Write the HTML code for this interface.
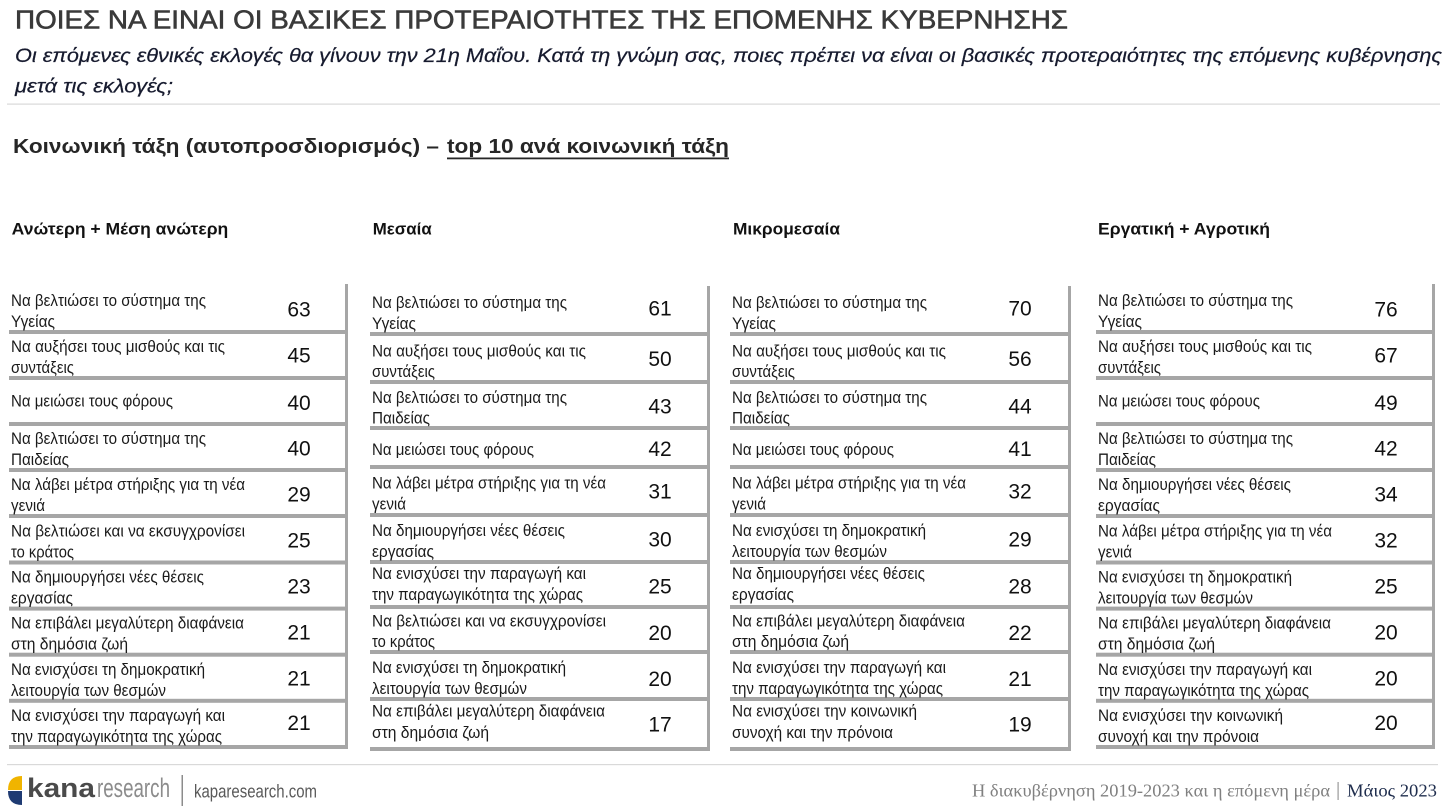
<!DOCTYPE html>
<html><head><meta charset="utf-8"><style>
html,body{margin:0;padding:0;background:#fff;}
svg{display:block;}
.t{font-family:"Liberation Sans",Arial,sans-serif;font-size:16.5px;fill:#1a1a1a;}
.n{font-family:"Liberation Sans",Arial,sans-serif;font-size:21px;fill:#111;text-anchor:middle;}
.h{font-family:"Liberation Sans",Arial,sans-serif;font-size:17px;font-weight:bold;fill:#111;}
</style></head><body>
<svg width="1449" height="809" viewBox="0 0 1449 809" xmlns="http://www.w3.org/2000/svg">
<rect width="1449" height="809" fill="#fff"/>
<!-- Title -->
<text x="15" y="28.3" font-family="Liberation Sans, Arial, sans-serif" font-size="25.6" fill="#3a3a3a" stroke="#3a3a3a" stroke-width="0.6" textLength="1053" lengthAdjust="spacingAndGlyphs">ΠΟΙΕΣ ΝΑ ΕΙΝΑΙ ΟΙ ΒΑΣΙΚΕΣ ΠΡΟΤΕΡΑΙΟΤΗΤΕΣ ΤΗΣ ΕΠΟΜΕΝΗΣ ΚΥΒΕΡΝΗΣΗΣ</text>
<text x="15" y="62" font-family="Liberation Sans, Arial, sans-serif" font-size="19" font-style="italic" fill="#161a2e" stroke="#161a2e" stroke-width="0.2" textLength="1427" lengthAdjust="spacingAndGlyphs">Οι επόμενες εθνικές εκλογές θα γίνουν την 21η Μαΐου. Κατά τη γνώμη σας, ποιες πρέπει να είναι οι βασικές προτεραιότητες της επόμενης κυβέρνησης</text>
<text x="15" y="92.5" font-family="Liberation Sans, Arial, sans-serif" font-size="19" font-style="italic" fill="#161a2e" stroke="#161a2e" stroke-width="0.2" textLength="158" lengthAdjust="spacingAndGlyphs">μετά τις εκλογές;</text>
<rect x="7" y="103.5" width="1433" height="1.2" fill="#d9d9d9"/>
<!-- Section heading -->
<text x="13" y="153" font-family="Liberation Sans, Arial, sans-serif" font-size="20" font-weight="bold" fill="#262626" textLength="426" lengthAdjust="spacingAndGlyphs">Κοινωνική τάξη (αυτοπροσδιορισμός) –</text>
<text x="447" y="153" font-family="Liberation Sans, Arial, sans-serif" font-size="20" font-weight="bold" fill="#262626" textLength="282" lengthAdjust="spacingAndGlyphs">top 10 ανά κοινωνική τάξη</text>
<rect x="447" y="157.5" width="282" height="1.8" fill="#262626"/>
<!-- Column headers -->
<text class="h" x="11.7" y="234.3" textLength="216.6" lengthAdjust="spacingAndGlyphs">Ανώτερη + Μέση ανώτερη</text>
<text class="h" x="372.7" y="234.3" textLength="59" lengthAdjust="spacingAndGlyphs">Μεσαία</text>
<text class="h" x="733" y="234.3" textLength="107" lengthAdjust="spacingAndGlyphs">Μικρομεσαία</text>
<text class="h" x="1098" y="234.3" textLength="172" lengthAdjust="spacingAndGlyphs">Εργατική + Αγροτική</text>

<g fill="#a6a6a6">
<!-- col1 -->
<rect x="345" y="284" width="3" height="465"/>
<rect x="9" y="330" width="339" height="4"/>
<rect x="9" y="376" width="339" height="4"/>
<rect x="9" y="422" width="339" height="4"/>
<rect x="9" y="468" width="339" height="4"/>
<rect x="9" y="514" width="339" height="4"/>
<rect x="9" y="560.5" width="339" height="4"/>
<rect x="9" y="606.6" width="339" height="4"/>
<rect x="9" y="652.7" width="339" height="4"/>
<rect x="9" y="698.8" width="339" height="4"/>
<rect x="9" y="745" width="339" height="4"/>
<!-- col2 -->
<rect x="707" y="286" width="3" height="465"/>
<rect x="370" y="332" width="340" height="4"/>
<rect x="370" y="380" width="340" height="4"/>
<rect x="370" y="426" width="340" height="4"/>
<rect x="370" y="465" width="340" height="4"/>
<rect x="370" y="513" width="340" height="4"/>
<rect x="370" y="560" width="340" height="4"/>
<rect x="370" y="605" width="340" height="4"/>
<rect x="370" y="650" width="340" height="4"/>
<rect x="370" y="697" width="340" height="4"/>
<rect x="370" y="747" width="340" height="4"/>
<!-- col3 -->
<rect x="1068" y="286" width="3" height="465"/>
<rect x="730" y="332" width="341" height="4"/>
<rect x="730" y="380" width="341" height="4"/>
<rect x="730" y="426" width="341" height="4"/>
<rect x="730" y="465" width="341" height="4"/>
<rect x="730" y="513" width="341" height="4"/>
<rect x="730" y="560" width="341" height="4"/>
<rect x="730" y="605" width="341" height="4"/>
<rect x="730" y="650" width="341" height="4"/>
<rect x="730" y="697" width="341" height="4"/>
<rect x="730" y="747" width="341" height="4"/>
<!-- col4 -->
<rect x="1432" y="284" width="3" height="465"/>
<rect x="1096" y="330" width="339" height="4"/>
<rect x="1096" y="376" width="339" height="4"/>
<rect x="1096" y="422" width="339" height="4"/>
<rect x="1096" y="468" width="339" height="4"/>
<rect x="1096" y="514" width="339" height="4"/>
<rect x="1096" y="560.5" width="339" height="4"/>
<rect x="1096" y="606.6" width="339" height="4"/>
<rect x="1096" y="652.7" width="339" height="4"/>
<rect x="1096" y="698.8" width="339" height="4"/>
<rect x="1096" y="745" width="339" height="4"/>
</g>

<g>
<!-- Column 1 text -->
<text class="t" x="11" y="306" textLength="195" lengthAdjust="spacingAndGlyphs">Να βελτιώσει το σύστημα της</text><text class="t" x="11" y="327" textLength="44" lengthAdjust="spacingAndGlyphs">Υγείας</text><text class="n" x="299" y="316.5">63</text>
<text class="t" x="11" y="352" textLength="214" lengthAdjust="spacingAndGlyphs">Να αυξήσει τους μισθούς και τις</text><text class="t" x="11" y="373" textLength="63" lengthAdjust="spacingAndGlyphs">συντάξεις</text><text class="n" x="299" y="362.5">45</text>
<text class="t" x="11" y="406.7" textLength="162" lengthAdjust="spacingAndGlyphs">Να μειώσει τους φόρους</text><text class="n" x="299" y="410">40</text>
<text class="t" x="11" y="444" textLength="195" lengthAdjust="spacingAndGlyphs">Να βελτιώσει το σύστημα της</text><text class="t" x="11" y="465" textLength="58" lengthAdjust="spacingAndGlyphs">Παιδείας</text><text class="n" x="299" y="455.5">40</text>
<text class="t" x="11" y="490" textLength="234" lengthAdjust="spacingAndGlyphs">Να λάβει μέτρα στήριξης για τη νέα</text><text class="t" x="11" y="511" textLength="34" lengthAdjust="spacingAndGlyphs">γενιά</text><text class="n" x="299" y="501.5">29</text>
<text class="t" x="11" y="536.5" textLength="234" lengthAdjust="spacingAndGlyphs">Να βελτιώσει και να εκσυγχρονίσει</text><text class="t" x="11" y="557.5" textLength="63" lengthAdjust="spacingAndGlyphs">το κράτος</text><text class="n" x="299" y="547.5">25</text>
<text class="t" x="11" y="582.6" textLength="193" lengthAdjust="spacingAndGlyphs">Να δημιουργήσει νέες θέσεις</text><text class="t" x="11" y="603.6" textLength="62" lengthAdjust="spacingAndGlyphs">εργασίας</text><text class="n" x="299" y="593.5">23</text>
<text class="t" x="11" y="628.7" textLength="233" lengthAdjust="spacingAndGlyphs">Να επιβάλει μεγαλύτερη διαφάνεια</text><text class="t" x="11" y="649.7" textLength="117" lengthAdjust="spacingAndGlyphs">στη δημόσια ζωή</text><text class="n" x="299" y="639.5">21</text>
<text class="t" x="11" y="674.8" textLength="194" lengthAdjust="spacingAndGlyphs">Να ενισχύσει τη δημοκρατική</text><text class="t" x="11" y="695.8" textLength="155" lengthAdjust="spacingAndGlyphs">λειτουργία των θεσμών</text><text class="n" x="299" y="685.5">21</text>
<text class="t" x="11" y="721" textLength="214" lengthAdjust="spacingAndGlyphs">Να ενισχύσει την παραγωγή και</text><text class="t" x="11" y="742" textLength="211" lengthAdjust="spacingAndGlyphs">την παραγωγικότητα της χώρας</text><text class="n" x="299" y="730">21</text>

<!-- Column 2 text -->
<text class="t" x="372" y="308" textLength="195" lengthAdjust="spacingAndGlyphs">Να βελτιώσει το σύστημα της</text><text class="t" x="372" y="329" textLength="44" lengthAdjust="spacingAndGlyphs">Υγείας</text><text class="n" x="660" y="315.5">61</text>
<text class="t" x="372" y="356.5" textLength="214" lengthAdjust="spacingAndGlyphs">Να αυξήσει τους μισθούς και τις</text><text class="t" x="372" y="377" textLength="63" lengthAdjust="spacingAndGlyphs">συντάξεις</text><text class="n" x="660" y="366">50</text>
<text class="t" x="372" y="403" textLength="195" lengthAdjust="spacingAndGlyphs">Να βελτιώσει το σύστημα της</text><text class="t" x="372" y="423.5" textLength="58" lengthAdjust="spacingAndGlyphs">Παιδείας</text><text class="n" x="660" y="413.3">43</text>
<text class="t" x="372" y="455" textLength="162" lengthAdjust="spacingAndGlyphs">Να μειώσει τους φόρους</text><text class="n" x="660" y="456">42</text>
<text class="t" x="372" y="488.5" textLength="234" lengthAdjust="spacingAndGlyphs">Να λάβει μέτρα στήριξης για τη νέα</text><text class="t" x="372" y="509.5" textLength="34" lengthAdjust="spacingAndGlyphs">γενιά</text><text class="n" x="660" y="498.5">31</text>
<text class="t" x="372" y="536" textLength="193" lengthAdjust="spacingAndGlyphs">Να δημιουργήσει νέες θέσεις</text><text class="t" x="372" y="557" textLength="62" lengthAdjust="spacingAndGlyphs">εργασίας</text><text class="n" x="660" y="546.5">30</text>
<text class="t" x="372" y="579" textLength="214" lengthAdjust="spacingAndGlyphs">Να ενισχύσει την παραγωγή και</text><text class="t" x="372" y="600" textLength="211" lengthAdjust="spacingAndGlyphs">την παραγωγικότητα της χώρας</text><text class="n" x="660" y="593.3">25</text>
<text class="t" x="372" y="626.5" textLength="234" lengthAdjust="spacingAndGlyphs">Να βελτιώσει και να εκσυγχρονίσει</text><text class="t" x="372" y="647" textLength="63" lengthAdjust="spacingAndGlyphs">το κράτος</text><text class="n" x="660" y="640">20</text>
<text class="t" x="372" y="673" textLength="194" lengthAdjust="spacingAndGlyphs">Να ενισχύσει τη δημοκρατική</text><text class="t" x="372" y="694" textLength="155" lengthAdjust="spacingAndGlyphs">λειτουργία των θεσμών</text><text class="n" x="660" y="686">20</text>
<text class="t" x="372" y="716.7" textLength="233" lengthAdjust="spacingAndGlyphs">Να επιβάλει μεγαλύτερη διαφάνεια</text><text class="t" x="372" y="738" textLength="117" lengthAdjust="spacingAndGlyphs">στη δημόσια ζωή</text><text class="n" x="660" y="731.7">17</text>

<!-- Column 3 text -->
<text class="t" x="732" y="308" textLength="195" lengthAdjust="spacingAndGlyphs">Να βελτιώσει το σύστημα της</text><text class="t" x="732" y="329" textLength="44" lengthAdjust="spacingAndGlyphs">Υγείας</text><text class="n" x="1020" y="315.5">70</text>
<text class="t" x="732" y="356.5" textLength="214" lengthAdjust="spacingAndGlyphs">Να αυξήσει τους μισθούς και τις</text><text class="t" x="732" y="377" textLength="63" lengthAdjust="spacingAndGlyphs">συντάξεις</text><text class="n" x="1020" y="366">56</text>
<text class="t" x="732" y="403" textLength="195" lengthAdjust="spacingAndGlyphs">Να βελτιώσει το σύστημα της</text><text class="t" x="732" y="423.5" textLength="58" lengthAdjust="spacingAndGlyphs">Παιδείας</text><text class="n" x="1020" y="413.3">44</text>
<text class="t" x="732" y="455" textLength="162" lengthAdjust="spacingAndGlyphs">Να μειώσει τους φόρους</text><text class="n" x="1020" y="456">41</text>
<text class="t" x="732" y="488.5" textLength="234" lengthAdjust="spacingAndGlyphs">Να λάβει μέτρα στήριξης για τη νέα</text><text class="t" x="732" y="509.5" textLength="34" lengthAdjust="spacingAndGlyphs">γενιά</text><text class="n" x="1020" y="498.5">32</text>
<text class="t" x="732" y="536" textLength="194" lengthAdjust="spacingAndGlyphs">Να ενισχύσει τη δημοκρατική</text><text class="t" x="732" y="557" textLength="155" lengthAdjust="spacingAndGlyphs">λειτουργία των θεσμών</text><text class="n" x="1020" y="546.5">29</text>
<text class="t" x="732" y="579" textLength="193" lengthAdjust="spacingAndGlyphs">Να δημιουργήσει νέες θέσεις</text><text class="t" x="732" y="600" textLength="62" lengthAdjust="spacingAndGlyphs">εργασίας</text><text class="n" x="1020" y="593.3">28</text>
<text class="t" x="732" y="626.5" textLength="233" lengthAdjust="spacingAndGlyphs">Να επιβάλει μεγαλύτερη διαφάνεια</text><text class="t" x="732" y="647" textLength="117" lengthAdjust="spacingAndGlyphs">στη δημόσια ζωή</text><text class="n" x="1020" y="640">22</text>
<text class="t" x="732" y="673" textLength="214" lengthAdjust="spacingAndGlyphs">Να ενισχύσει την παραγωγή και</text><text class="t" x="732" y="694" textLength="211" lengthAdjust="spacingAndGlyphs">την παραγωγικότητα της χώρας</text><text class="n" x="1020" y="686">21</text>
<text class="t" x="732" y="716.7" textLength="185" lengthAdjust="spacingAndGlyphs">Να ενισχύσει την κοινωνική</text><text class="t" x="732" y="738" textLength="161" lengthAdjust="spacingAndGlyphs">συνοχή και την πρόνοια</text><text class="n" x="1020" y="731.7">19</text>

<!-- Column 4 text -->
<text class="t" x="1098" y="306" textLength="195" lengthAdjust="spacingAndGlyphs">Να βελτιώσει το σύστημα της</text><text class="t" x="1098" y="327" textLength="44" lengthAdjust="spacingAndGlyphs">Υγείας</text><text class="n" x="1386" y="316.5">76</text>
<text class="t" x="1098" y="352" textLength="214" lengthAdjust="spacingAndGlyphs">Να αυξήσει τους μισθούς και τις</text><text class="t" x="1098" y="373" textLength="63" lengthAdjust="spacingAndGlyphs">συντάξεις</text><text class="n" x="1386" y="362.5">67</text>
<text class="t" x="1098" y="406.7" textLength="162" lengthAdjust="spacingAndGlyphs">Να μειώσει τους φόρους</text><text class="n" x="1386" y="410">49</text>
<text class="t" x="1098" y="444" textLength="195" lengthAdjust="spacingAndGlyphs">Να βελτιώσει το σύστημα της</text><text class="t" x="1098" y="465" textLength="58" lengthAdjust="spacingAndGlyphs">Παιδείας</text><text class="n" x="1386" y="455.5">42</text>
<text class="t" x="1098" y="490" textLength="193" lengthAdjust="spacingAndGlyphs">Να δημιουργήσει νέες θέσεις</text><text class="t" x="1098" y="511" textLength="62" lengthAdjust="spacingAndGlyphs">εργασίας</text><text class="n" x="1386" y="501.5">34</text>
<text class="t" x="1098" y="536.5" textLength="234" lengthAdjust="spacingAndGlyphs">Να λάβει μέτρα στήριξης για τη νέα</text><text class="t" x="1098" y="557.5" textLength="34" lengthAdjust="spacingAndGlyphs">γενιά</text><text class="n" x="1386" y="547.5">32</text>
<text class="t" x="1098" y="582.6" textLength="194" lengthAdjust="spacingAndGlyphs">Να ενισχύσει τη δημοκρατική</text><text class="t" x="1098" y="603.6" textLength="155" lengthAdjust="spacingAndGlyphs">λειτουργία των θεσμών</text><text class="n" x="1386" y="593.5">25</text>
<text class="t" x="1098" y="628.7" textLength="233" lengthAdjust="spacingAndGlyphs">Να επιβάλει μεγαλύτερη διαφάνεια</text><text class="t" x="1098" y="649.7" textLength="117" lengthAdjust="spacingAndGlyphs">στη δημόσια ζωή</text><text class="n" x="1386" y="639.5">20</text>
<text class="t" x="1098" y="674.8" textLength="214" lengthAdjust="spacingAndGlyphs">Να ενισχύσει την παραγωγή και</text><text class="t" x="1098" y="695.8" textLength="211" lengthAdjust="spacingAndGlyphs">την παραγωγικότητα της χώρας</text><text class="n" x="1386" y="685.5">20</text>
<text class="t" x="1098" y="721" textLength="185" lengthAdjust="spacingAndGlyphs">Να ενισχύσει την κοινωνική</text><text class="t" x="1098" y="742" textLength="161" lengthAdjust="spacingAndGlyphs">συνοχή και την πρόνοια</text><text class="n" x="1386" y="730">20</text>
</g>

<!-- Footer -->
<rect x="7" y="764" width="1431" height="1.2" fill="#d9d9d9"/>
<path d="M22,776 L22,790 L8,790 Q8,776 22,776 Z" fill="#f0b400"/>
<path d="M22,791 L22,805 Q8,805 8,791 Z" fill="#1f3b73"/>
<text x="27" y="797" font-family="Liberation Sans, Arial, sans-serif" font-size="27" font-weight="bold" fill="#4a4a4a" textLength="68" lengthAdjust="spacingAndGlyphs">kana</text>
<text x="97" y="797" font-family="Liberation Sans, Arial, sans-serif" font-size="27" fill="#8c8c8c" textLength="73" lengthAdjust="spacingAndGlyphs">research</text>
<rect x="181.5" y="775" width="1.5" height="31" fill="#8c8c8c"/>
<text x="194" y="797.5" font-family="Liberation Sans, Arial, sans-serif" font-size="18" fill="#595959" textLength="123" lengthAdjust="spacingAndGlyphs">kaparesearch.com</text>
<text x="972" y="796.7" font-family="Liberation Serif, serif" font-size="17.5" fill="#808080" textLength="358" lengthAdjust="spacingAndGlyphs">Η διακυβέρνηση 2019-2023 και η επόμενη μέρα</text>
<rect x="1337.5" y="782" width="1.2" height="18" fill="#9a9a9a"/>
<text x="1347" y="796.7" font-family="Liberation Serif, serif" font-size="17.5" fill="#1f2d4d" textLength="90" lengthAdjust="spacingAndGlyphs">Μάιος 2023</text>
</svg>
</body></html>
